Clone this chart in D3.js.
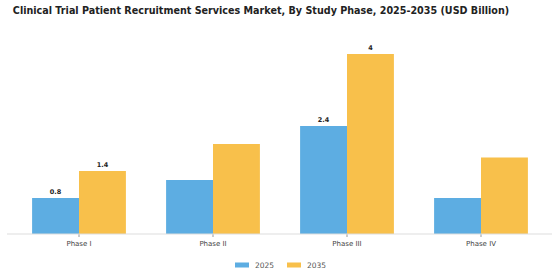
<!DOCTYPE html>
<html>
<head>
<meta charset="utf-8">
<script src="https://cdn.jsdelivr.net/npm/d3@7"></script>
<style>
  body { margin: 0; background: #fff; }
  svg { display: block; font-family: "DejaVu Sans", sans-serif; }
</style>
</head>
<body>
<div id="chart"></div>
<script>
const phases = ["Phase I", "Phase II", "Phase III", "Phase IV"];
const years = ["2025", "2035"];
const values2025 = [0.8, 1.2, 2.4, 0.8];
const values2035 = [1.4, 2.0, 4.0, 1.7];
// only some bars carry a value label in the original
const labelled = [[true, true], [false, false], [true, true], [false, false]];
const colors = ["#5DADE2", "#F8C04B"];

const width = 560, height = 280;
const svg = d3.select("#chart").append("svg")
    .attr("width", width)
    .attr("height", height);

svg.append("text")
    .attr("x", 261)
    .attr("y", 14)
    .attr("text-anchor", "middle")
    .attr("font-size", 9.6)
    .attr("font-weight", "bold")
    .attr("fill", "#222")
    .text("Clinical Trial Patient Recruitment Services Market, By Study Phase, 2025-2035 (USD Billion)");

const baseY = 234;
const x = d3.scaleBand()
    .domain(phases)
    .range([12, 548])
    .paddingInner(0.3)
    .paddingOuter(0.15);

const xSub = d3.scaleBand()
    .domain(years)
    .range([0, x.bandwidth()]);

const y = d3.scaleLinear()
    .domain([0, 4])
    .range([baseY, 54]);

const rows = phases.map((p, i) => ({
    phase: p,
    vals: [values2025[i], values2035[i]],
    show: labelled[i]
}));

const groups = svg.append("g").selectAll("g")
    .data(rows)
    .join("g")
    .attr("transform", d => `translate(${x(d.phase)},0)`);

groups.selectAll("rect")
    .data(d => d.vals.map((v, j) => ({ year: years[j], v: v, j: j, show: d.show[j] })))
    .join("rect")
    .attr("x", d => xSub(d.year))
    .attr("y", d => y(d.v))
    .attr("width", xSub.bandwidth())
    .attr("height", d => baseY - y(d.v))
    .attr("fill", d => colors[d.j]);

groups.selectAll("text")
    .data(d => d.vals.map((v, j) => ({ year: years[j], v: v, show: d.show[j] })).filter(d => d.show))
    .join("text")
    .attr("x", d => xSub(d.year) + xSub.bandwidth() / 2)
    .attr("y", d => y(d.v) - 4.5)
    .attr("text-anchor", "middle")
    .attr("font-size", 6.5)
    .attr("font-weight", "bold")
    .attr("fill", "#222")
    .text(d => d3.format("")(d.v));

// x axis
const axis = svg.append("g")
    .attr("transform", `translate(0,${baseY})`)
    .call(d3.axisBottom(x).tickSize(3).tickSizeOuter(0));
axis.select(".domain").remove();
axis.append("line")
    .attr("x1", 7).attr("x2", 552)
    .attr("stroke", "#ddd");
axis.selectAll(".tick line").attr("stroke", "#999");
axis.selectAll(".tick text")
    .attr("font-family", "DejaVu Sans, sans-serif")
    .attr("font-size", 7)
    .attr("fill", "#444")
    .attr("dy", "0.9em");

// legend
const legend = svg.append("g").attr("transform", "translate(235,265)");
const legendX = [0, 52];
years.forEach((yr, i) => {
    const g = legend.append("g").attr("transform", `translate(${legendX[i]},0)`);
    g.append("rect")
        .attr("x", 0).attr("y", -2.5)
        .attr("width", 14).attr("height", 5)
        .attr("fill", colors[i]);
    g.append("text")
        .attr("x", 20).attr("y", 0)
        .attr("dy", "0.35em")
        .attr("font-size", 7.5)
        .attr("fill", "#555")
        .text(yr);
});
</script>
</body>
</html>
